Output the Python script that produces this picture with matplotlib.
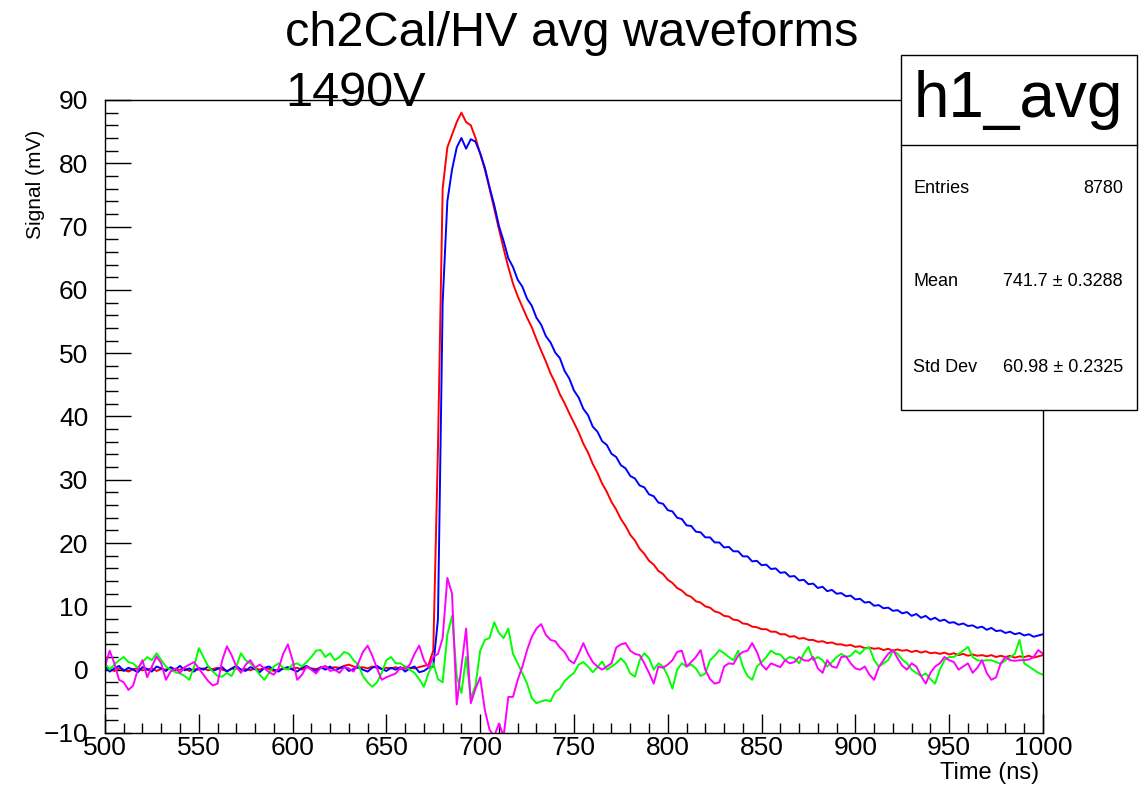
import numpy as np
import matplotlib
matplotlib.use("Agg")
import matplotlib.pyplot as plt
from matplotlib.patches import Rectangle
from matplotlib.lines import Line2D
from matplotlib.ticker import MultipleLocator

plt.rcParams['font.family'] = ['Liberation Sans', 'DejaVu Sans']

# time bins (ns), 2.5 ns steps from 500 to 1000
time_ns = np.arange(500, 1000.01, 2.5)

# averaged waveforms (mV), one row = 25 ns
red_mv = [
    0.3, 0.1, -0.2, 0.2, 0.0, -0.3, 0.1, 0.2, -0.1, 0.0,
    0.2, -0.2, 0.1, 0.0, 0.3, -0.1, 0.0, 0.2, -0.2, 0.1,
    0.0, 0.2, -0.1, 0.1, 0.3, 0.0, -0.2, 0.1, 0.2, 0.0,
    0.1, -0.1, 0.2, 0.0, 0.3, 0.1, -0.2, 0.0, 0.2, 0.1,
    0.2, 0.3, 0.0, 0.4, 0.2, 0.1, 0.3, 0.5, 0.2, 0.4,
    0.3, 0.6, 0.8, 0.5, 0.3, 0.4, 0.2, 0.5, 0.3, 0.1,
    0.3, 0.2, 0.4, 0.1, 0.5, 0.3, 0.2, 0.4, 0.6, 0.8,
    3.0, 35.0, 76.0, 82.5, 84.5, 86.5, 88.0, 86.5, 86.0, 84.0,
    81.5, 79.0, 76.0, 72.8, 69.6, 66.5, 63.6, 61.0, 59.0, 57.3,
    55.6, 54.1, 52.2, 50.4, 48.7, 46.8, 45.3, 43.5, 42.1, 40.5,
    39.0, 37.5, 35.7, 34.3, 32.5, 31.1, 29.4, 28.1, 26.5, 25.3,
    23.8, 22.7, 21.3, 20.4, 19.1, 18.3, 17.2, 16.6, 15.6, 15.1,
    14.2, 13.7, 12.9, 12.5, 11.8, 11.5, 10.8, 10.6, 10.0, 9.8,
    9.2, 9.0, 8.5, 8.4, 7.9, 7.8, 7.3, 7.2, 6.8, 6.7,
    6.4, 6.4, 6.0, 6.0, 5.6, 5.6, 5.2, 5.3, 4.9, 5.0,
    4.7, 4.7, 4.4, 4.5, 4.2, 4.3, 4.0, 4.0, 3.8, 3.9,
    3.6, 3.7, 3.4, 3.5, 3.3, 3.4, 3.1, 3.3, 3.0, 3.2,
    3.0, 3.1, 2.8, 3.0, 2.7, 2.9, 2.6, 2.7, 2.5, 2.7,
    2.4, 2.6, 2.3, 2.5, 2.2, 2.4, 2.2, 2.3, 2.1, 2.3,
    2.0, 2.2, 2.0, 2.2, 1.9, 2.1, 2.0, 2.2, 1.9, 2.1,
    2.3,
]

blue_mv = [
    0.5, -0.3, 0.2, 0.6, -0.2, 0.3, 0.0, -0.4, 0.4, 0.1,
    -0.3, 0.5, 0.2, -0.2, 0.4, 0.0, 0.6, -0.1, 0.2, -0.3,
    0.3, 0.0, 0.5, -0.2, 0.1, 0.4, -0.3, 0.2, 0.6, 0.0,
    -0.2, 0.4, 0.1, -0.4, 0.3, 0.5, 0.0, -0.3, 0.2, 0.4,
    0.0, -0.3, 0.3, 0.6, 0.1, -0.2, 0.4, 0.0, 0.5, -0.1,
    0.2, 0.5, -0.2, 0.1, 0.4, 0.0, -0.3, 0.3, 0.6, 0.1,
    -0.2, 0.3, 0.0, 0.4, -0.3, 0.2, 0.5, -0.4, -0.2, 0.3,
    0.5, 8.0, 58.0, 74.0, 79.0, 82.5, 84.0, 82.3, 83.8, 83.4,
    81.6, 79.3, 76.2, 73.4, 70.1, 67.7, 65.0, 63.6, 61.6, 60.5,
    58.6, 57.5, 55.6, 54.5, 52.7, 51.7, 50.1, 49.2, 47.2, 46.0,
    44.1, 43.0, 41.2, 40.2, 38.4, 37.6, 36.1, 35.5, 34.1, 33.6,
    32.3, 31.8, 30.6, 30.2, 29.1, 28.8, 27.7, 27.4, 26.4, 26.2,
    25.2, 25.0, 24.0, 23.8, 22.8, 22.7, 21.8, 21.7, 20.9, 20.9,
    20.1, 20.1, 19.3, 19.4, 18.7, 18.7, 17.9, 17.9, 17.1, 17.2,
    16.5, 16.6, 15.9, 16.0, 15.3, 15.4, 14.7, 14.8, 14.1, 14.2,
    13.5, 13.6, 12.9, 13.1, 12.4, 12.6, 12.0, 12.1, 11.6, 11.7,
    11.1, 11.2, 10.6, 10.7, 10.1, 10.2, 9.7, 9.8, 9.3, 9.4,
    8.9, 9.1, 8.5, 8.8, 8.2, 8.5, 7.9, 8.2, 7.7, 7.9,
    7.4, 7.5, 7.1, 7.3, 6.9, 7.0, 6.6, 6.8, 6.3, 6.6,
    6.1, 6.2, 5.8, 6.0, 5.6, 5.8, 5.4, 5.6, 5.2, 5.4,
    5.6,
]

green_mv = [
    1.0, 0.0, 0.8, 1.5, 2.0, 1.2, 1.0, 0.3, 1.2, 2.0,
    1.5, 2.6, 1.5, 0.5, 0.0, -0.4, -0.6, -1.0, -1.6, 0.5,
    3.4, 2.0, 0.5, -0.3, -1.0, -1.1, -0.5, -1.0, 0.5, 2.6,
    1.5, 1.0, 0.3, -0.8, -1.6, -0.5, 0.5, 1.0, 0.3, 0.0,
    0.8, 1.0, 0.5, 1.2, 2.0, 3.0, 3.1, 2.0, 2.6, 1.5,
    2.0, 2.8, 2.5, 1.5, 0.8, -1.0, -2.0, -2.7, -2.0, -0.5,
    1.5, 2.0, 1.0, 1.0, 0.5, 0.0, -0.5, -1.5, -2.7, -0.5,
    1.0, -1.5, -2.0, 5.5, 8.5, -1.0, -3.7, 2.0, -4.5, -2.5,
    3.0, 4.7, 5.0, 7.5, 5.8, 5.0, 6.5, 2.5, 1.0, -0.6,
    -2.2, -4.5, -5.3, -5.0, -4.8, -5.0, -3.5, -3.0, -1.8, -1.1,
    -0.5, 0.8, 1.2, 0.5, -0.4, 0.4, 1.3, 0.0, 0.5, 1.0,
    1.8, 1.0, -0.6, -1.1, 1.5, 2.6, 1.8, 0.0, 1.0, 0.5,
    -1.0, -3.0, 0.0, 1.0, 0.5, 0.8, 0.2, -1.0, -0.6, 1.5,
    2.2, 3.1, 2.6, 2.0, 1.5, 3.0, 0.5, -1.0, -1.6, 0.5,
    1.2, 2.0, 3.0, 2.5, 2.4, 1.5, 2.0, 1.8, 1.0, 2.5,
    3.6, 1.5, 2.0, 1.5, 0.5, 1.2, 2.0, 2.5, 2.0, 2.2,
    3.0, 2.5, 3.3, 3.5, 1.5, 0.5, 1.0, 1.5, 3.0, 2.5,
    1.6, 1.0, 0.0, -0.5, -1.0, -0.6, -1.5, -2.2, 0.0, 1.5,
    2.0, 2.0, 2.5, 3.0, 3.6, 2.0, 1.5, 1.4, 1.5, 1.5,
    1.2, 0.9, 1.5, 2.0, 2.5, 4.7, 1.0, 0.5, 0.0, -0.5,
    -0.8,
]

magenta_mv = [
    0.5, 3.0, 1.0, -1.6, -2.0, -3.2, -2.5, 0.0, 1.5, -1.2,
    0.5, 2.1, 1.0, -1.6, -0.3, 0.2, -0.5, 0.4, 0.8, 1.2,
    0.2, -0.8, -1.8, -2.5, -2.2, 1.5, 3.7, 2.3, 0.5, -0.5,
    0.8, 1.5, 0.3, 0.8, 0.2, -0.4, -0.8, 0.2, 2.5, 4.0,
    1.5, -1.6, -0.8, 0.5, 0.0, -0.6, 0.3, 0.6, -0.2, 0.0,
    -0.5, 0.4, 0.2, -0.3, 1.0, 2.8, 3.8, 2.2, 0.2, -1.6,
    -1.2, -0.9, -0.6, 0.3, 0.1, 0.8, 2.5, 3.8, 1.5, 0.3,
    2.0, 2.5, 5.0, 14.5, 12.0, -5.5, 0.5, 6.5, -5.3, -3.0,
    -1.2, -6.4, -9.5, -10.5, -8.5, -10.5, -4.3, -4.3, -1.6, 0.5,
    3.1, 5.2, 6.5, 7.2, 5.5, 4.7, 4.5, 3.5, 2.8, 1.5,
    1.0, 2.5, 4.2, 2.5, 1.2, 0.5, 0.0, 0.5, 1.0, 3.5,
    4.0, 4.2, 3.0, 2.5, 2.3, 1.0, -0.5, -2.2, 0.5, 0.3,
    0.8, 1.5, 2.8, 3.0, 0.5, 1.2, 2.0, 3.1, 0.0, -1.5,
    -2.2, -2.0, 0.5, 1.0, 0.9, 2.2, 2.8, 3.0, 4.2, 2.8,
    0.8, 0.0, 1.0, 0.7, 0.4, 1.5, 1.0, 1.2, 2.0, 1.5,
    1.4, 2.0, 0.2, -0.5, 1.5, 0.5, 0.3, 2.0, 2.1, 1.0,
    0.2, 0.0, 0.5, -0.8, -1.6, 0.4, 1.5, 2.5, 3.1, 1.8,
    0.6, 0.0, 1.0, 0.5, -1.0, -2.2, -0.5, 0.5, 1.0, 2.0,
    1.5, 1.2, 0.0, 0.5, 1.0, -0.5, 0.3, 1.5, -0.5, -1.6,
    -1.2, 1.0, 2.0, 1.5, 1.4, 1.5, 1.5, 1.6, 2.0, 3.1,
    2.5,
]

stat_labels = ["Entries", "Mean", "Std Dev"]
stat_values = ["8780", "741.7 \u00b1 0.3288", "60.98 \u00b1 0.2325"]

fig = plt.figure(figsize=(11.46, 7.89), dpi=100)
ax = fig.add_axes([0.0916, 0.0710, 0.8185, 0.8023])

for vals, col in [(red_mv, '#ff0000'), (blue_mv, '#0000ff'),
                  (green_mv, '#00ff00'), (magenta_mv, '#ff00ff')]:
    ax.plot(time_ns, vals, color=col, lw=1.4)

ax.set_xlim(500, 1000)
ax.set_ylim(-10, 90)
ax.xaxis.set_major_locator(MultipleLocator(50))
ax.xaxis.set_minor_locator(MultipleLocator(10))
ax.yaxis.set_major_locator(MultipleLocator(10))
ax.yaxis.set_minor_locator(MultipleLocator(2))
ax.tick_params(axis='x', which='major', direction='in', length=14, width=1,
               labelsize=19, pad=2, top=False)
ax.tick_params(axis='x', which='minor', direction='in', length=7, width=1, top=False)
ax.tick_params(axis='y', which='major', direction='in', length=19, width=1,
               labelsize=19, pad=12, right=False)
ax.tick_params(axis='y', which='minor', direction='in', length=9.5, width=1, right=False)
for s in ax.spines.values():
    s.set_linewidth(1)

fig.text(0.907, 0.0203, "Time (ns)", fontsize=17, ha='right', va='center')
fig.text(0.031, 0.766, "Signal (mV)", fontsize=15, rotation=90, ha='center', va='center')

fig.text(0.2487, 0.958, "ch2Cal/HV avg waveforms", fontsize=35, ha='left', va='center')
fig.text(0.2487, 0.882, "1490V", fontsize=35, ha='left', va='center')

# stats box
fig.add_artist(Rectangle((0.7862, 0.4804), 0.2059, 0.4499, transform=fig.transFigure,
                         facecolor='white', edgecolor='black', lw=1, zorder=5))
fig.add_artist(Line2D([0.7862, 0.9921], [0.8162, 0.8162], transform=fig.transFigure,
                      color='black', lw=1, zorder=6))
fig.text(0.889, 0.873, "h1_avg", fontsize=46, ha='center', va='center', zorder=7)
for lab, val, yy in zip(stat_labels, stat_values, [0.7605, 0.6426, 0.5336]):
    fig.text(0.797, yy, lab, fontsize=13, ha='left', va='center', zorder=7)
    fig.text(0.980, yy, val, fontsize=13, ha='right', va='center', zorder=7)

fig.savefig("out.png", dpi=100)
